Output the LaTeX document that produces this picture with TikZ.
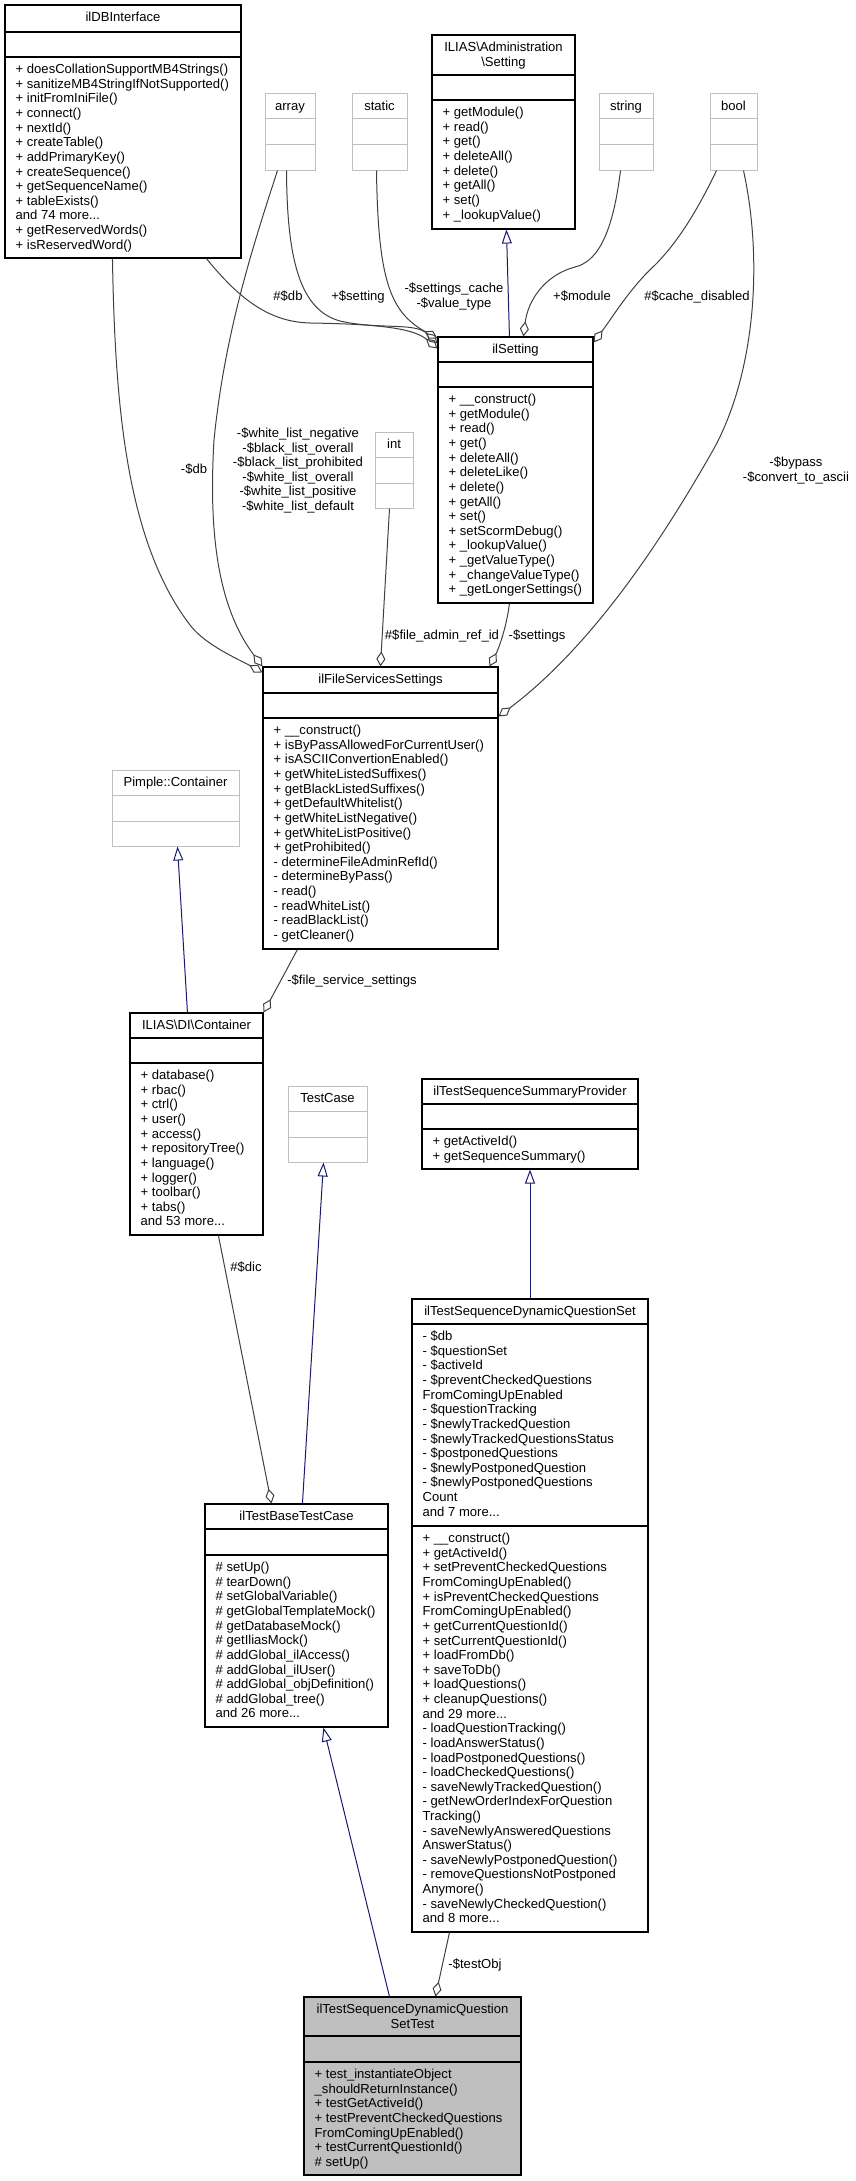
\documentclass[tikz,border=0pt]{standalone}
\usepackage{fontspec}
\setmainfont{Liberation Sans}
\usetikzlibrary{arrows.meta,fit}
\definecolor{grey75}{HTML}{BFBFBF}
\definecolor{grey25}{HTML}{404040}
\definecolor{midnight}{HTML}{191970}
\newcommand{\R}{\rule{0pt}{11pt}}
% #1 name, #2 x1, #3 y1, #4 x2, #5 y2, #6 sep1, #7 sep2, #8 style
\newcommand{\classbox}[8]{%
  \node[fit={(#2,#3)(#4,#5)}, inner sep=0pt, #8] (#1) {};
  \draw[#8, fill=none] (#2,#6) -- (#4,#6) (#2,#7) -- (#4,#7);
}
\begin{document}
\begin{tikzpicture}[x=1pt,y=-1pt,
  every node/.style={font=\fontsize{13.07}{14.62}\selectfont},
  cls/.style={draw=black,line width=1.1pt},
  gcls/.style={draw=grey75,line width=1pt},
  focus/.style={draw=black,line width=1.1pt,fill=grey75},
  ttl/.style={anchor=north,inner sep=0pt,align=center},
  mem/.style={anchor=north west,inner sep=0pt,align=left},
  lbl/.style={anchor=north,inner sep=0pt,align=center},
  use/.style={draw=grey25,line width=1pt,-{Diamond[open,length=15pt,width=9pt]}},
  inh/.style={draw=midnight,line width=1pt,-{Triangle[open,length=14pt,width=10pt]}}]
\useasboundingbox (0,0) rectangle (855,2181);

% ---------- boxes ----------
\classbox{dbi}{5}{5}{241}{258}{32}{57}{cls}
\node[ttl] (dbi-n) at (123,10.7) {\R ilDBInterface};
\node[mem] (dbi-o) at (15.5,62.5) {\R + doesCollationSupportMB4Strings()\\+ sanitizeMB4StringIfNotSupported()\\+ initFromIniFile()\\+ connect()\\+ nextId()\\+ createTable()\\+ addPrimaryKey()\\+ createSequence()\\+ getSequenceName()\\+ tableExists()\\and 74 more...\\+ getReservedWords()\\+ isReservedWord()};

\classbox{array}{265}{94}{315}{170}{119}{145}{gcls}
\node[ttl] (array-n) at (290,99.7) {\R array};
\classbox{static}{352}{94}{407}{170}{119}{145}{gcls}
\node[ttl] (static-n) at (379.5,99.7) {\R static};
\classbox{string}{599}{94}{653}{170}{119}{145}{gcls}
\node[ttl] (string-n) at (626,99.7) {\R string};
\classbox{bool}{710}{94}{757}{170}{119}{145}{gcls}
\node[ttl] (bool-n) at (733.5,99.7) {\R bool};

\classbox{admset}{432}{35}{575}{229}{75}{100}{cls}
\node[ttl] (admset-n) at (503.5,40.7) {\R ILIAS\textbackslash Administration\\\textbackslash Setting};
\node[mem] (admset-o) at (442.5,105.5) {\R + getModule()\\+ read()\\+ get()\\+ deleteAll()\\+ delete()\\+ getAll()\\+ set()\\+ \_lookupValue()};

\classbox{ils}{438}{337}{593}{603}{362}{387}{cls}
\node[ttl] (ils-n) at (515.5,342.7) {\R ilSetting};
\node[mem] (ils-o) at (448.5,392.5) {\R + \_\_construct()\\+ getModule()\\+ read()\\+ get()\\+ deleteAll()\\+ deleteLike()\\+ delete()\\+ getAll()\\+ set()\\+ setScormDebug()\\+ \_lookupValue()\\+ \_getValueType()\\+ \_changeValueType()\\+ \_getLongerSettings()};

\classbox{int}{375}{432}{413}{508}{457}{483}{gcls}
\node[ttl] (int-n) at (394,437.7) {\R int};

\classbox{fss}{263}{667}{498}{949}{693}{718}{cls}
\node[ttl] (fss-n) at (380.5,672.7) {\R ilFileServicesSettings};
\node[mem] (fss-o) at (273.5,723.5) {\R + \_\_construct()\\+ isByPassAllowedForCurrentUser()\\+ isASCIIConvertionEnabled()\\+ getWhiteListedSuffixes()\\+ getBlackListedSuffixes()\\+ getDefaultWhitelist()\\+ getWhiteListNegative()\\+ getWhiteListPositive()\\+ getProhibited()\\- determineFileAdminRefId()\\- determineByPass()\\- read()\\- readWhiteList()\\- readBlackList()\\- getCleaner()};

\classbox{pimple}{112}{770}{239}{846}{795}{821}{gcls}
\node[ttl] (pimple-n) at (175.5,775.7) {\R Pimple::Container};

\classbox{dic}{130}{1013}{263}{1235}{1038}{1063}{cls}
\node[ttl] (dic-n) at (196.5,1018.7) {\R ILIAS\textbackslash DI\textbackslash Container};
\node[mem] (dic-o) at (140.5,1068.5) {\R + database()\\+ rbac()\\+ ctrl()\\+ user()\\+ access()\\+ repositoryTree()\\+ language()\\+ logger()\\+ toolbar()\\+ tabs()\\and 53 more...};

\classbox{testcase}{288}{1086}{367}{1162}{1111}{1137}{gcls}
\node[ttl] (testcase-n) at (327.5,1091.7) {\R TestCase};

\classbox{tssp}{422}{1079}{638}{1169}{1104}{1129}{cls}
\node[ttl] (tssp-n) at (530,1084.7) {\R ilTestSequenceSummaryProvider};
\node[mem] (tssp-o) at (432.5,1134.5) {\R + getActiveId()\\+ getSequenceSummary()};

\classbox{dqs}{412}{1299}{648}{1932}{1324}{1526}{cls}
\node[ttl] (dqs-n) at (530,1304.7) {\R ilTestSequenceDynamicQuestionSet};
\node[mem] (dqs-a) at (422.5,1329.5) {\R - \$db\\- \$questionSet\\- \$activeId\\- \$preventCheckedQuestions\\FromComingUpEnabled\\- \$questionTracking\\- \$newlyTrackedQuestion\\- \$newlyTrackedQuestionsStatus\\- \$postponedQuestions\\- \$newlyPostponedQuestion\\- \$newlyPostponedQuestions\\Count\\and 7 more...};
\node[mem] (dqs-o) at (422.5,1531.5) {\R + \_\_construct()\\+ getActiveId()\\+ setPreventCheckedQuestions\\FromComingUpEnabled()\\+ isPreventCheckedQuestions\\FromComingUpEnabled()\\+ getCurrentQuestionId()\\+ setCurrentQuestionId()\\+ loadFromDb()\\+ saveToDb()\\+ loadQuestions()\\+ cleanupQuestions()\\and 29 more...\\- loadQuestionTracking()\\- loadAnswerStatus()\\- loadPostponedQuestions()\\- loadCheckedQuestions()\\- saveNewlyTrackedQuestion()\\- getNewOrderIndexForQuestion\\Tracking()\\- saveNewlyAnsweredQuestions\\AnswerStatus()\\- saveNewlyPostponedQuestion()\\- removeQuestionsNotPostponed\\Anymore()\\- saveNewlyCheckedQuestion()\\and 8 more...};

\classbox{tbtc}{205}{1504}{388}{1727}{1529}{1555}{cls}
\node[ttl] (tbtc-n) at (296.5,1509.7) {\R ilTestBaseTestCase};
\node[mem] (tbtc-o) at (215.5,1560.5) {\R \# setUp()\\\# tearDown()\\\# setGlobalVariable()\\\# getGlobalTemplateMock()\\\# getDatabaseMock()\\\# getIliasMock()\\\# addGlobal\_ilAccess()\\\# addGlobal\_ilUser()\\\# addGlobal\_objDefinition()\\\# addGlobal\_tree()\\and 26 more...};

\classbox{dqst}{304}{1997}{521}{2175}{2036}{2062}{focus}
\node[ttl] (dqst-n) at (412.5,2002.7) {\R ilTestSequenceDynamicQuestion\\SetTest};
\node[mem] (dqst-o) at (314.5,2067.5) {\R + test\_instantiateObject\\\_shouldReturnInstance()\\+ testGetActiveId()\\+ testPreventCheckedQuestions\\FromComingUpEnabled()\\+ testCurrentQuestionId()\\\# setUp()};

% ---------- inheritance ----------
\draw[inh] ([xshift=72pt]ils.north west) -- ([xshift=75pt]admset.south west);
\draw[inh] ([xshift=58pt]dic.north west) -- ([xshift=66pt]pimple.south west);
\draw[inh] ([xshift=98pt]tbtc.north west) -- ([xshift=36pt]testcase.south west);
\draw[inh] (dqs.north) -- (tssp.south);
\draw[inh] ([xshift=86pt]dqst.north west) -- ([xshift=119pt]tbtc.south west);

% ---------- usage ----------
\draw[use] ([xshift=202pt]dbi.south west) .. controls (240,300) and (270,322) .. (310,323) .. controls (370,324) and (412,327) .. ([yshift=-12pt]ils.north west);
\draw[use] ([xshift=22pt]array.south west) .. controls (287,260) and (300,310) .. (340,321) .. controls (380,330) and (415,322) .. ([yshift=-7pt]ils.north west);
\draw[use] ([xshift=25pt]static.south west) .. controls (378,280) and (390,312) .. ([yshift=-2pt]ils.north west);
\draw[use] ([xshift=22pt]string.south west) .. controls (612,240) and (595,262) .. (575,267) .. controls (545,275) and (528,300) .. ([xshift=86pt]ils.north west);
\draw[use] ([xshift=7pt]bool.south west) .. controls (700,205) and (680,240) .. (655,265) .. controls (630,288) and (612,318) .. ([yshift=-6pt]ils.north east);
\draw[use] ([xshift=34pt]bool.south west) .. controls (765,270) and (752,382) .. (712,452) .. controls (672,522) and (600,640) .. ([yshift=-50pt]fss.north east);
\draw[use] ([xshift=13pt]array.south west) .. controls (255,240) and (225,330) .. (214,440) .. controls (208,540) and (220,610) .. (fss.north west);
\draw[use] ([xshift=108pt]dbi.south west) .. controls (115,400) and (125,540) .. (190,625) .. controls (205,645) and (240,660) .. ([yshift=-6pt]fss.north west);
\draw[use] ([xshift=15pt]int.south west) -- ([xshift=118pt]fss.north west);
\draw[use] ([xshift=72pt]ils.south west) .. controls (506,630) and (498,650) .. ([xshift=227pt]fss.north west);
\draw[use] ([xshift=35pt]fss.south west) -- (dic.north east);
\draw[use] ([xshift=89pt]dic.south west) -- ([xshift=67pt]tbtc.north west);
\draw[use] ([xshift=38pt]dqs.south west) -- ([xshift=132pt]dqst.north west);

% ---------- labels ----------
\node[lbl] (l-db1) at (288,289.5) {\R\#\$db};
\node[lbl] (l-setting) at (358,289.5) {\R+\$setting};
\node[lbl] (l-cache) at (454,281.5) {\R-\$settings\_cache\\-\$value\_type};
\node[lbl] (l-module) at (582,289.5) {\R+\$module};
\node[lbl] (l-cdis) at (697,289.5) {\R\#\$cache\_disabled};
\node[lbl] (l-db2) at (194,461.8) {\R-\$db};
\node[lbl] (l-wl) at (298,426.2) {\R-\$white\_list\_negative\\-\$black\_list\_overall\\-\$black\_list\_prohibited\\-\$white\_list\_overall\\-\$white\_list\_positive\\-\$white\_list\_default};
\node[lbl] (l-fadm) at (442,627.8) {\R\#\$file\_admin\_ref\_id};
\node[lbl] (l-settings) at (537,627.8) {\R-\$settings};
\node[lbl] (l-bypass) at (796,455.2) {\R-\$bypass\\-\$convert\_to\_ascii};
\node[lbl] (l-fss) at (352,972.8) {\R-\$file\_service\_settings};
\node[lbl] (l-dic) at (246,1260.2) {\R\#\$dic};
\node[lbl] (l-test) at (475,1956.8) {\R-\$testObj};
\end{tikzpicture}
\end{document}
